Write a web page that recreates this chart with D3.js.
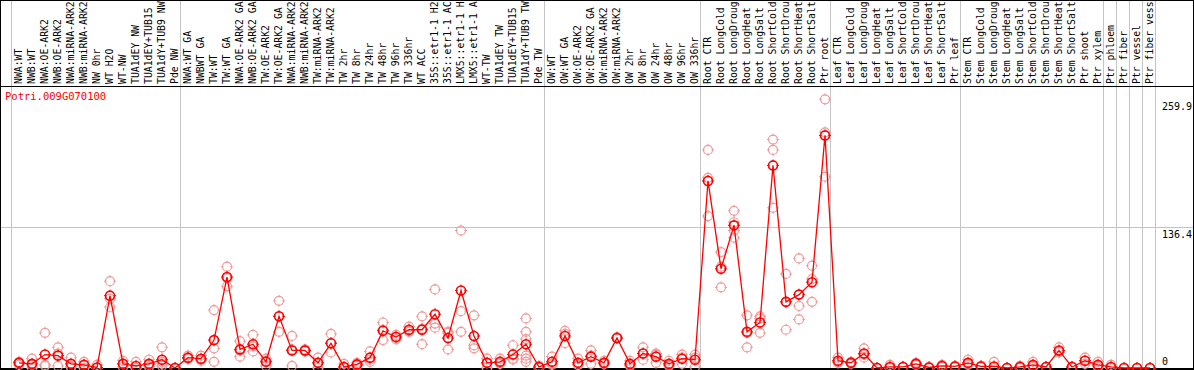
<!DOCTYPE html>
<html>
<head>
<meta charset="utf-8">
<script src="https://cdn.jsdelivr.net/npm/d3@7"></script>
<style>
  body { margin: 0; background: #fff; }
  svg { display: block; }
</style>
</head>
<body>
<div id="chart"></div>
<script>
const GENE = 'Potri.009G070100';

// the plot shows only the first 14 characters of each sample name
const LABEL_CHARS = 14;

const SAMPLES = [
  'NWA:WT', 'NWB:WT', 'NWA:OE-ARK2', 'NWB:OE-ARK2', 'NWA:miRNA-ARK2', 'NWB:miRNA-ARK2',
  'NW 0hr', 'WT H2O', 'WT-NW', 'TUA1dEY NW', 'TUA1dEY+TUB15 NW', 'TUA1dY+TUB9 NW', 'Pde NW',
  'NWA:WT GA', 'NWBWT GA', 'TW:WT', 'TW:WT GA', 'NWA:OE-ARK2 GA', 'NWB:OE-ARK2 GA',
  'TW:OE-ARK2', 'TW:OE-ARK2 GA', 'NWA:miRNA-ARK2 GA', 'NWB:miRNA-ARK2 GA', 'TW:miRNA-ARK2',
  'TW:miRNA-ARK2 GA', 'TW 2hr', 'TW 8hr', 'TW 24hr', 'TW 48hr', 'TW 96hr', 'TW 336hr', 'WT ACC',
  '35S::etr1-1 H2O', '35S::etr1-1 ACC', 'LMX5::etr1-1 H2O', 'LMX5::etr1-1 ACC', 'WT-TW',
  'TUA1dEY TW', 'TUA1dEY+TUB15 TW', 'TUA1dY+TUB9 TW', 'Pde TW',
  'OW:WT', 'OW:WT GA', 'OW:OE-ARK2', 'OW:OE-ARK2 GA', 'OW:miRNA-ARK2', 'OW:miRNA-ARK2 GA',
  'OW 2hr', 'OW 8hr', 'OW 24hr', 'OW 48hr', 'OW 96hr', 'OW 336hr',
  'Root CTR', 'Root LongCold', 'Root LongDrought', 'Root LongHeat', 'Root LongSalt',
  'Root ShortCold', 'Root ShortDrought', 'Root ShortHeat', 'Root ShortSalt', 'Ptr root',
  'Leaf CTR', 'Leaf LongCold', 'Leaf LongDrought', 'Leaf LongHeat', 'Leaf LongSalt',
  'Leaf ShortCold', 'Leaf ShortDrought', 'Leaf ShortHeat', 'Leaf ShortSalt', 'Ptr leaf',
  'Stem CTR', 'Stem LongCold', 'Stem LongDrought', 'Stem LongHeat', 'Stem LongSalt',
  'Stem ShortCold', 'Stem ShortDrought', 'Stem ShortHeat', 'Stem ShortSalt', 'Ptr shoot',
  'Ptr xylem', 'Ptr phloem', 'Ptr fiber', 'Ptr vessel', 'Ptr fiber vessel',
];

const MEANS = [
  5, 4, 13, 12, 4, 3, 0.5, 70, 4, 2, 4, 8, 0,
  10, 9, 27, 88, 18, 23, 6, 50, 17, 17, 5, 24, 1, 3.5, 10, 36, 30, 37, 37, 52, 29, 75, 31, 5, 6, 13, 23, 1,
  6, 31, 5, 11, 5, 29, 4, 14, 11, 4, 9, 8,
  181, 96, 138, 35, 44, 196, 64, 71, 83, 225,
  7, 5, 14, 0, 1, 1, 4, 0.5, 2, 1.5,
  5, 1.5, 1.5, 0, 1, 3, 1, 17, 1, 7,
  3, 1, 0, 0, 0,
];

const REPLICATES = [
  [3, 6, 5], [9, 0, 3], [34, 2, 3], [20, 2, 14], [10, 1, 1], [6, 3, 0], [3, 0, 0],
  [84, 59, 67], [7, 1, 4], [6, 0, 0], [8, 1, 3], [20, 4, 2, 6], [0, 0],
  [12, 9, 9], [12, 8, 7], [56, 19, 6], [98, 79, 87], [26, 11, 17], [32, 16, 21], [9, 2, 7],
  [65, 35, 50], [31, 2, 18], [17, 18, 16], [10, 0, 5], [33, 15, 24], [4, 0, 0], [5, 3, 2],
  [16, 6, 8], [44, 27, 37], [32, 28, 30], [40, 35, 36], [50, 23, 38], [76, 43, 39],
  [35, 18, 34], [133, 55, 35], [51, 22, 19], [9, 0, 5], [9, 4, 5], [22, 9, 8],
  [48, 35, 28, 12, 9, 6], [1, 0, 2],
  [11, 3, 4], [36, 24, 33], [9, 3, 3], [17, 4, 12], [7, 4, 4], [29, 29, 30], [7, 2, 3],
  [20, 8, 14], [14, 5, 13], [7, 2, 3], [13, 4, 10], [13, 1, 10],
  [211, 184, 147], [112, 98, 78], [152, 133, 126, 141], [51, 20, 34], [50, 34, 48],
  [221, 211, 155], [91, 37, 64], [106, 60, 47], [99, 86, 64], [259.9, 228, 185],
  [10, 5, 6], [5, 4, 6], [19, 10, 13], [0, 0, 0], [3, 0, 0], [1, 1, 1], [5, 4, 3],
  [1, 0, 0], [3, 2, 1], [2, 1, 1],
  [8, 4, 3], [2, 1, 1], [6, 0, 0], [0, 0, 0], [2, 1, 0], [6, 2, 1], [1, 1, 1],
  [20, 16, 15], [1, 1, 1], [10, 7, 4],
  [6, 2, 1], [3, 0, 0], [0, 0], [0, 0], [0, 0],
];

// index of the last sample in each block (grey separators)
const GROUP_ENDS = [-1, 12, 40, 52, 62, 72, 83, 84, 85, 86, 87];
const AXIS_TICKS = [259.9, 136.4, 0];
const Y_MAX = 272.8;

const width = 1194;
const height = 370;
const headerH = 86;
const plotBottom = 368;
const font = '"DejaVu Sans Mono", "Liberation Mono", monospace';
const red = '#ff0000';
const pale = '#f09a9a';
const grey = '#c4c4c4';

const svg = d3.select('#chart').append('svg')
  .attr('width', width)
  .attr('height', height)
  .attr('viewBox', `0 0 ${width} ${height}`);

const x = d3.scaleLinear()
  .domain([0, SAMPLES.length - 1])
  .range([19, 1150]);

const y = d3.scaleLinear()
  .domain([0, Y_MAX])
  .range([plotBottom, headerH]);

// grey separators between sample blocks
svg.append('g')
  .selectAll('line')
  .data(GROUP_ENDS)
  .enter().append('line')
  .attr('x1', d => Math.round(x(d) + 5) + 0.5)
  .attr('x2', d => Math.round(x(d) + 5) + 0.5)
  .attr('y1', 0)
  .attr('y2', plotBottom)
  .attr('stroke', grey)
  .attr('stroke-width', 1);

// mid-scale guide line
svg.append('line')
  .attr('x1', 0)
  .attr('x2', width)
  .attr('y1', Math.round(y(AXIS_TICKS[1])) + 0.5)
  .attr('y2', Math.round(y(AXIS_TICKS[1])) + 0.5)
  .attr('stroke', grey);

// rotated sample labels
svg.append('g')
  .attr('class', 'labels')
  .selectAll('text')
  .data(SAMPLES)
  .enter().append('text')
  .attr('transform', (d, i) => `translate(${x(i)},84) rotate(-90)`)
  .attr('dy', '0.35em')
  .attr('style', `font-family: ${font}; font-size: 9.8px;`)
  .attr('fill', '#000')
  .text(d => d.slice(0, LABEL_CHARS).trimEnd());

// header rule and frame
svg.append('line')
  .attr('x1', 0).attr('x2', width)
  .attr('y1', headerH + 0.5).attr('y2', headerH + 0.5)
  .attr('stroke', '#000');

svg.append('rect')
  .attr('x', 0.5).attr('y', 0.5)
  .attr('width', width - 1).attr('height', plotBottom)
  .attr('fill', 'none')
  .attr('stroke', '#000');

svg.append('line')
  .attr('x1', 0).attr('x2', width)
  .attr('y1', plotBottom + 1).attr('y2', plotBottom + 1)
  .attr('stroke', '#000')
  .attr('stroke-width', 2);

// gene name
svg.append('text')
  .attr('x', 5)
  .attr('y', 100)
  .attr('fill', red)
  .attr('style', `font-family: ${font}; font-size: 10.5px;`)
  .text(GENE);

// right-hand value labels
svg.append('g')
  .selectAll('text')
  .data(AXIS_TICKS)
  .enter().append('text')
  .attr('x', 1162)
  .attr('y', d => (d === 0 ? y(d) - 3 : y(d) + 11))
  .attr('style', `font-family: ${font}; font-size: 10px;`)
  .attr('fill', '#000')
  .text(d => d);

function marker(sel, color, sw) {
  sel.append('circle')
    .attr('r', 4.5)
    .attr('fill', 'none')
    .attr('stroke', color)
    .attr('stroke-width', sw);
  [[0, -1], [0, 1], [-1, 0], [1, 0]].forEach(([dx, dy]) => {
    sel.append('line')
      .attr('x1', dx * 3.5).attr('y1', dy * 3.5)
      .attr('x2', dx * 6).attr('y2', dy * 6)
      .attr('stroke', color)
      .attr('stroke-width', 1);
  });
}

// replicate points
const reps = [];
REPLICATES.forEach((arr, i) => arr.forEach(v => reps.push({ i, v })));

svg.append('g')
  .attr('class', 'replicates')
  .selectAll('g')
  .data(reps)
  .enter().append('g')
  .attr('transform', d => `translate(${x(d.i)},${y(d.v)})`)
  .call(marker, pale, 1.2);

// mean line
const line = d3.line()
  .x((d, i) => x(i))
  .y(d => y(d));

svg.append('path')
  .datum(MEANS)
  .attr('d', line)
  .attr('fill', 'none')
  .attr('stroke', red)
  .attr('stroke-width', 1.3);

svg.append('g')
  .attr('class', 'means')
  .selectAll('g')
  .data(MEANS)
  .enter().append('g')
  .attr('transform', (d, i) => `translate(${x(i)},${y(d)})`)
  .call(marker, red, 1.6);
</script>
</body>
</html>
